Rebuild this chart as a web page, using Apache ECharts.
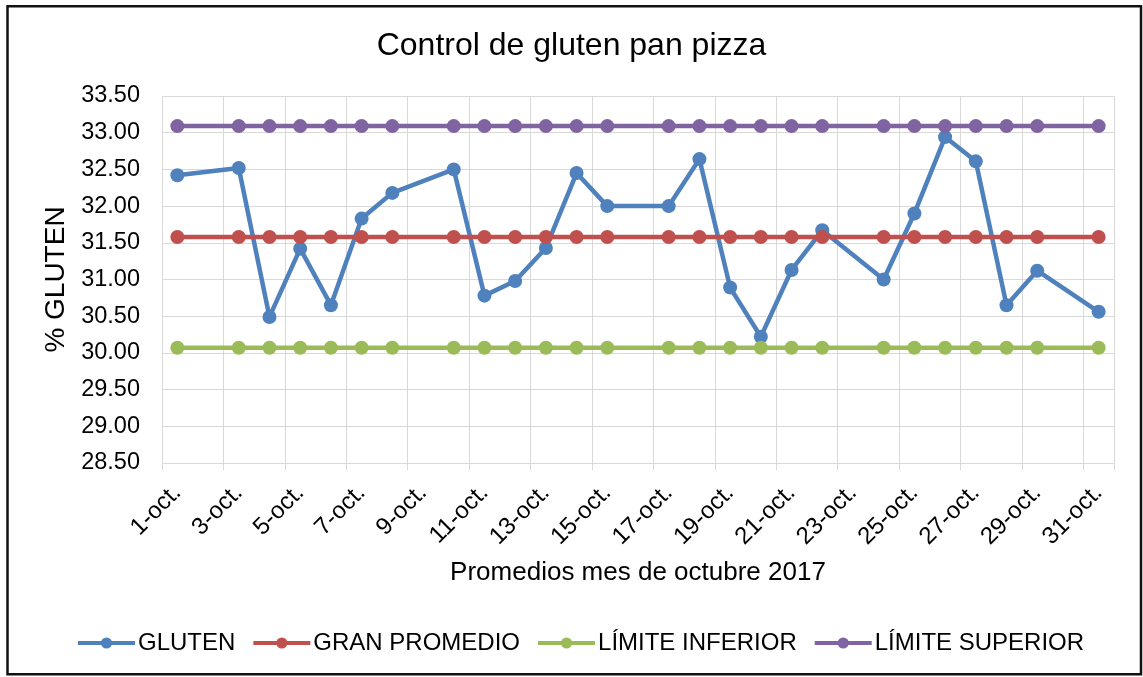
<!DOCTYPE html>
<html><head><meta charset="utf-8">
<script src="https://cdn.jsdelivr.net/npm/echarts@6/dist/echarts.min.js"></script>
<style>html,body{margin:0;padding:0;background:#fff}#c{width:1143px;height:677px}</style>
</head><body><div id="c"></div>
<script>
const categories = ["1-oct.","2-oct.","3-oct.","4-oct.","5-oct.","6-oct.","7-oct.","8-oct.","9-oct.","10-oct.","11-oct.","12-oct.","13-oct.","14-oct.","15-oct.","16-oct.","17-oct.","18-oct.","19-oct.","20-oct.","21-oct.","22-oct.","23-oct.","24-oct.","25-oct.","26-oct.","27-oct.","28-oct.","29-oct.","30-oct.","31-oct."];
const gluten = [32.42,null,32.52,30.49,31.42,30.65,31.83,32.18,null,32.50,30.78,30.98,31.43,32.45,32.00,null,32.00,32.64,30.89,30.22,31.13,31.67,null,31.00,31.90,32.94,32.61,30.65,31.12,null,30.56];
const granPromedio = [31.58,null,31.58,31.58,31.58,31.58,31.58,31.58,null,31.58,31.58,31.58,31.58,31.58,31.58,null,31.58,31.58,31.58,31.58,31.58,31.58,null,31.58,31.58,31.58,31.58,31.58,31.58,null,31.58];
const limiteInferior = [30.07,null,30.07,30.07,30.07,30.07,30.07,30.07,null,30.07,30.07,30.07,30.07,30.07,30.07,null,30.07,30.07,30.07,30.07,30.07,30.07,null,30.07,30.07,30.07,30.07,30.07,30.07,null,30.07];
const limiteSuperior = [33.09,null,33.09,33.09,33.09,33.09,33.09,33.09,null,33.09,33.09,33.09,33.09,33.09,33.09,null,33.09,33.09,33.09,33.09,33.09,33.09,null,33.09,33.09,33.09,33.09,33.09,33.09,null,33.09];
const yMin = 28.5, yMax = 33.5, yStep = 0.5;

const FONT = "'Liberation Sans', Arial, sans-serif";
const chart = echarts.init(document.getElementById('c'), null, {renderer: 'canvas'});
function mk(name, data, color) {
  return {
    name, type: 'line', data, connectNulls: true,
    symbol: 'circle', symbolSize: 14, showAllSymbol: true,
    itemStyle: {color},
    lineStyle: {color, width: 4.5},
    emphasis: {disabled: true}
  };
}
chart.setOption({
  animation: false,
  backgroundColor: '#fff',
  textStyle: {fontFamily: FONT},
  title: {
    text: 'Control de gluten pan pizza', left: 'center', top: 25,
    textStyle: {fontFamily: FONT, fontSize: 32, fontWeight: 'normal', color: '#000'}
  },
  legend: {
    bottom: 17, left: 71, itemWidth: 57, itemHeight: 14, itemGap: 16,
    lineStyle: {width: 4},
    textStyle: {fontFamily: FONT, fontSize: 24, color: '#000', padding: [0, 0, 0, -2]},
    data: ['GLUTEN', 'GRAN PROMEDIO', 'LÍMITE INFERIOR', 'LÍMITE SUPERIOR']
  },
  grid: {left: 162, right: 29, top: 96, bottom: 214, containLabel: false},
  xAxis: {
    type: 'category', data: categories, boundaryGap: true,
    name: 'Promedios mes de octubre 2017', nameLocation: 'middle', nameGap: 97,
    nameTextStyle: {fontFamily: FONT, fontSize: 26, color: '#000'},
    axisLine: {show: false},
    axisTick: {show: true, interval: 1, length: 7, lineStyle: {color: '#d9d9d9', width: 1}},
    splitLine: {show: true, interval: 1, lineStyle: {color: '#d9d9d9', width: 1}},
    axisLabel: {interval: 1, rotate: 45, margin: 26, fontFamily: FONT, fontSize: 24, color: '#000'}
  },
  yAxis: {
    type: 'value', min: yMin, max: yMax, interval: yStep,
    name: '% GLUTEN', nameLocation: 'middle', nameGap: 90, nameRotate: 90,
    nameTextStyle: {fontFamily: FONT, fontSize: 28, color: '#000'},
    axisLine: {show: false}, axisTick: {show: false},
    splitLine: {show: true, lineStyle: {color: '#d9d9d9', width: 1}},
    axisLabel: {margin: 22, fontFamily: FONT, fontSize: 23.5, color: '#000', formatter: v => v.toFixed(2)}
  },
  graphic: [{
    type: 'rect', silent: true,
    shape: {x: 7.5, y: 6.3, width: 1133.5, height: 668},
    style: {fill: 'none', stroke: '#111', lineWidth: 2.5}
  }],
  series: [
    mk('GLUTEN', gluten, '#4f81bd'),
    mk('GRAN PROMEDIO', granPromedio, '#c0504d'),
    mk('LÍMITE INFERIOR', limiteInferior, '#9bbb59'),
    mk('LÍMITE SUPERIOR', limiteSuperior, '#8064a2')
  ]
});
</script></body></html>
